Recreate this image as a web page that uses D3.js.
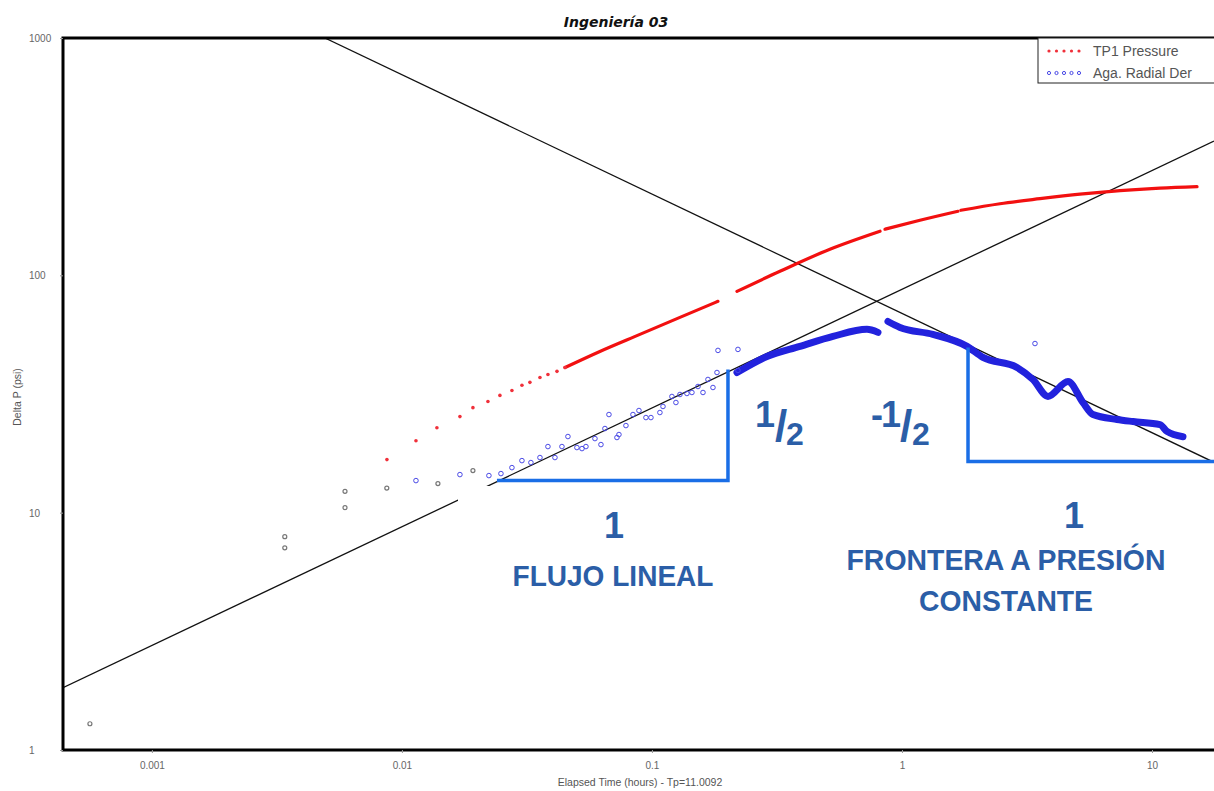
<!DOCTYPE html>
<html>
<head>
<meta charset="utf-8">
<script src="https://cdn.jsdelivr.net/npm/d3@7"></script>
<style>
  body { margin: 0; background: #fff; }
  svg { display: block; }
  .tick text { font-family: "Liberation Sans", Arial, sans-serif; fill: #666; }
</style>
</head>
<body>
<div id="chart"></div>
<script>
// time (hours), delta P (psi)
var grayPoints = [[0.000565, 1.29], [0.0034, 7.92], [0.0034, 7.11], [0.00592, 12.3], [0.00592, 10.5],
  [0.0087, 12.7], [0.01393, 13.26], [0.01923, 15.04]];

var pressureSparse = [[0.00871, 16.73], [0.01138, 20.1], [0.0138, 22.8], [0.01706, 25.4], [0.01923, 27.7],
  [0.02208, 29.4], [0.02466, 31.2], [0.02754, 32.7], [0.0302, 34.4], [0.0325, 35.4], [0.03565, 37.1],
  [0.03837, 38.2], [0.0417, 39.4], [0.0449, 40.9]];

// dense parts of the pressure curve, split where the record has gaps
var pressureDense = [
  [[0.0449, 40.9], [0.0619, 47.8], [0.0895, 56.4], [0.1294, 66.5], [0.1837, 77.7]],
  [[0.2188, 85.6], [0.325, 104], [0.515, 128.8], [0.817, 153.4]],
  [[0.855, 156.4], [1.18, 170.6], [1.675, 186.2]],
  [[1.72, 188], [2.466, 200.3], [3.565, 210.3], [5.152, 219.7], [7.447, 227.3], [10.76, 232.9], [15.14, 236.3]]
];

var derivSparse = [[0.01138, 13.65], [0.01706, 14.47], [0.02228, 14.33], [0.02489, 14.61], [0.02754, 15.48],
  [0.0302, 16.57], [0.0328, 16.26], [0.03565, 17.07], [0.03837, 18.99], [0.04093, 17.07], [0.04365, 18.99],
  [0.04613, 20.93], [0.0501, 18.81], [0.0525, 18.62], [0.05445, 18.99], [0.05916, 20.52], [0.06252, 19.36],
  [0.06486, 22.62], [0.0673, 25.91], [0.07244, 20.73], [0.07379, 21.34], [0.0787, 23.28], [0.08395, 25.91],
  [0.08872, 26.94], [0.09462, 25.16], [0.09908, 25.16], [0.1076, 26.42], [0.1107, 28.02], [0.1202, 30.87],
  [0.1247, 29.12], [0.1294, 31.47], [0.138, 31.78], [0.1445, 32.09], [0.1528, 34.01], [0.16, 32.09],
  [0.1675, 36.41], [0.1754, 33.68], [0.182, 38.96], [0.1837, 48.27], [0.2208, 48.74], [0.2208, 39.73],
  [3.404, 51.6]];

var derivDense = [
  [[0.2188, 38.96], [0.2884, 45.5], [0.3908, 50.2], [0.5297, 55.3], [0.7244, 59.2], [0.8017, 57.5]],
  [[0.879, 63.9], [0.982, 60.3], [1.33, 56.4], [1.82, 50.2], [2.109, 45.1], [2.884, 40.9], [3.342, 36.4],
   [3.837, 30.9], [4.613, 35.7], [5.297, 29.1], [5.808, 25.9], [7.244, 24.7], [8.395, 24.2], [10.76, 23.5],
   [11.48, 22.0], [13.3, 20.9]]
];

// straight-line fits (half slope and minus half slope)
var halfSlopeLine = [[0.000441, 1.83], [17.7, 367.6]];
var minusHalfLine = [[0.00492, 1000], [17.7, 16.3]];

// slope triangles
var triangleLinear = [[0.02399, 13.65], [0.2014, 13.65], [0.2014, 40.1]];
var triangleBoundary = [[1.837, 49.7], [1.837, 16.41], [17.7, 16.41]];

var xTicks = [0.001, 0.01, 0.1, 1, 10];
var yTicks = [1, 10, 100, 1000];
var xTickLabels = ['0.001', '0.01', '0.1', '1', '10'];
var yTickLabels = ['1', '10', '100', '1000'];

var W = 1214, H = 791;
var margin = { left: 63, right: 1214, top: 38, bottom: 750 };

var svg = d3.select('#chart').append('svg').attr('width', W).attr('height', H);

var x = d3.scaleLog().domain([0.000441, 17.7]).range([margin.left, margin.right]);
var y = d3.scaleLog().domain([1, 1000]).range([margin.bottom, margin.top]);

svg.append('defs').append('clipPath').attr('id', 'plot')
  .append('rect').attr('x', margin.left).attr('y', margin.top)
  .attr('width', margin.right - margin.left).attr('height', margin.bottom - margin.top);

var plot = svg.append('g').attr('clip-path', 'url(#plot)');
var line = d3.line().x(function(d){ return x(d[0]); }).y(function(d){ return y(d[1]); });
var smooth = d3.line().curve(d3.curveMonotoneX).x(function(d){ return x(d[0]); }).y(function(d){ return y(d[1]); });

// guide lines
[halfSlopeLine, minusHalfLine].forEach(function(l){
  plot.append('path').attr('d', line(l)).attr('fill', 'none').attr('stroke', '#111').attr('stroke-width', 1.3);
});

// gray early points
plot.selectAll('circle.gray').data(grayPoints).enter().append('circle')
  .attr('class', 'gray')
  .attr('cx', function(d){ return x(d[0]); }).attr('cy', function(d){ return y(d[1]); })
  .attr('r', 2).attr('fill', 'none').attr('stroke', '#777').attr('stroke-width', 1.2);

// pressure
pressureDense.forEach(function(seg){
  plot.append('path').attr('d', smooth(seg)).attr('fill', 'none')
    .attr('stroke', '#f21010').attr('stroke-width', 3.2).attr('stroke-linecap', 'round');
});
plot.selectAll('circle.p').data(pressureSparse).enter().append('circle')
  .attr('class', 'p')
  .attr('cx', function(d){ return x(d[0]); }).attr('cy', function(d){ return y(d[1]); })
  .attr('r', 1.8).attr('fill', '#f0303a');

// derivative
derivDense.forEach(function(seg){
  plot.append('path').attr('d', smooth(seg)).attr('fill', 'none')
    .attr('stroke', '#2222dd').attr('stroke-width', 7).attr('stroke-linejoin', 'round').attr('stroke-linecap', 'round');
});
plot.selectAll('circle.d').data(derivSparse).enter().append('circle')
  .attr('class', 'd')
  .attr('cx', function(d){ return x(d[0]); }).attr('cy', function(d){ return y(d[1]); })
  .attr('r', 2.3).attr('fill', 'none').attr('stroke', '#4a4ae6').attr('stroke-width', 1);

// white box behind the label (hides part of the fit line)
svg.append('rect').attr('x', 458).attr('y', 486).attr('width', 310).attr('height', 110).attr('fill', '#fff');

// triangles
[triangleLinear, triangleBoundary].forEach(function(t){
  svg.append('path').attr('d', line(t)).attr('fill', 'none')
    .attr('stroke', '#1a6ee6').attr('stroke-width', 3.5);
});

// frame
svg.append('path')
  .attr('d', 'M' + (margin.right + 5) + ',' + margin.top + 'H' + margin.left + 'V' + margin.bottom + 'H' + (margin.right + 5))
  .attr('fill', 'none').attr('stroke', '#000').attr('stroke-width', 3);

// axes
var xAxis = svg.append('g').attr('transform', 'translate(0,' + margin.bottom + ')')
  .call(d3.axisBottom(x).tickValues(xTicks).tickSize(3).tickFormat(function(d, i){ return xTickLabels[i]; }));
xAxis.select('.domain').remove();
xAxis.selectAll('text').attr('font-size', 10).attr('dy', '1.3em');
xAxis.selectAll('line').attr('stroke', '#999');

var yAxis = svg.append('g').attr('transform', 'translate(' + margin.left + ',0)')
  .call(d3.axisLeft(y).tickValues(yTicks).tickSize(3).tickFormat(function(d, i){ return yTickLabels[i]; }));
yAxis.select('.domain').remove();
yAxis.selectAll('text').attr('font-size', 10).attr('text-anchor', 'start').attr('x', 29 - margin.left).attr('dy', '0.35em');
yAxis.selectAll('line').attr('stroke', '#999');

svg.append('text').attr('x', 640).attr('y', 786).attr('text-anchor', 'middle')
  .attr('font-family', 'Liberation Sans, Arial, sans-serif').attr('font-size', 10.5).attr('fill', '#555')
  .text('Elapsed Time (hours) - Tp=11.0092');
svg.append('text').attr('transform', 'translate(21,397) rotate(-90)').attr('text-anchor', 'middle')
  .attr('font-family', 'Liberation Sans, Arial, sans-serif').attr('font-size', 10.5).attr('fill', '#555')
  .text('Delta P (psi)');

// title
svg.append('text').attr('x', 616).attr('y', 27).attr('text-anchor', 'middle')
  .attr('font-family', 'DejaVu Sans, Verdana, sans-serif').attr('font-weight', 'bold').attr('font-style', 'italic')
  .attr('font-size', 14).attr('fill', '#111').text('Ingeniería 03');

// legend
var lg = svg.append('g');
lg.append('rect').attr('x', 1038).attr('y', 38).attr('width', 200).attr('height', 45)
  .attr('fill', '#fff').attr('stroke', '#222').attr('stroke-width', 1);
var legendItems = [{ name: 'TP1 Pressure', color: '#f0303a', fill: true }, { name: 'Aga. Radial Der', color: '#4a4ae6', fill: false }];
legendItems.forEach(function(it, i){
  var yy = 51 + i * 22;
  d3.range(5).forEach(function(k){
    lg.append('circle').attr('cx', 1049 + k * 7.5).attr('cy', yy).attr('r', 1.6)
      .attr('fill', it.fill ? it.color : 'none').attr('stroke', it.color).attr('stroke-width', it.fill ? 0 : 1);
  });
  lg.append('text').attr('x', 1093).attr('y', yy + 5)
    .attr('font-family', 'Liberation Sans, Arial, sans-serif').attr('font-size', 14).attr('fill', '#555')
    .text(it.name);
});

// annotations
var ann = '#2b5ea7';
function label(txt, xx, yy, size, len) {
  var t = svg.append('text').attr('x', xx).attr('y', yy).attr('text-anchor', 'middle')
    .attr('font-family', 'Liberation Sans, Arial, sans-serif').attr('font-weight', 'bold')
    .attr('font-size', size).attr('fill', ann).text(txt);
  if (len) t.attr('textLength', len).attr('lengthAdjust', 'spacingAndGlyphs');
  return t;
}
label('1', 614, 538, 36);
label('FLUJO LINEAL', 613, 586, 30, 201);
label('1', 1074, 528, 36);
label('FRONTERA A PRESIÓN', 1006, 570, 30, 319);
label('CONSTANTE', 1006, 611, 30, 174);

label('1', 765, 427, 36);
label('/', 781, 441, 44);
label('2', 795, 445, 32);
label('-', 877, 427, 36);
label('1', 891, 427, 36);
label('/', 906, 441, 44);
label('2', 921, 445, 32);
</script>
</body>
</html>
